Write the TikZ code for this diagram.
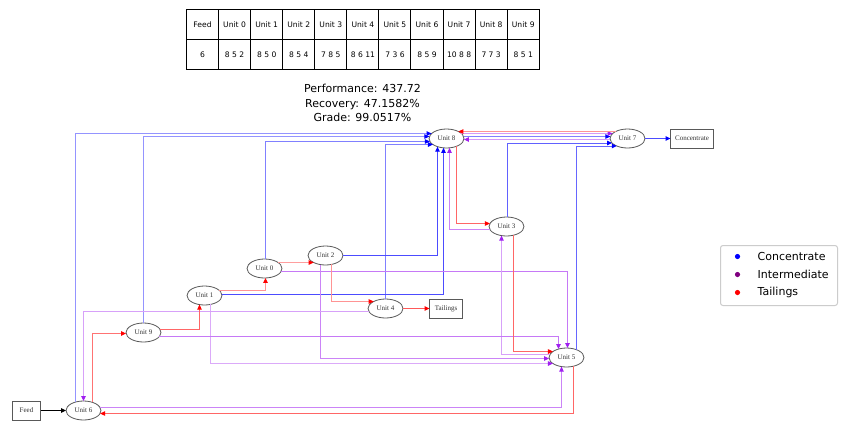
\documentclass[tikz,border=0pt]{standalone}
\usepackage{fontspec}
\setmainfont{DejaVu Sans}
\newfontfamily\gvfont{Liberation Serif}
\usetikzlibrary{shapes.geometric,arrows.meta,calc}
\definecolor{gvpurple}{HTML}{A020F0}
\definecolor{mplpurple}{HTML}{800080}
% border points of a 35x19 ellipse: top/bottom at horizontal offset, left/right at vertical offset
\newcommand\ptT[2]{($(#1)+(#2,{-9.5*sqrt(1-((#2)/17.5)^2)})$)}
\newcommand\ptB[2]{($(#1)+(#2,{9.5*sqrt(1-((#2)/17.5)^2)})$)}
\newcommand\ptL[2]{($(#1)+({-17.5*sqrt(1-((#2)/9.5)^2)},#2)$)}
\newcommand\ptR[2]{($(#1)+({17.5*sqrt(1-((#2)/9.5)^2)},#2)$)}
\tikzset{
  unit/.style={ellipse, draw=black!65, line width=0.8pt, minimum width=35pt, minimum height=19pt,
    inner sep=0pt, outer sep=0pt, font=\gvfont\fontsize{7}{8}\selectfont, text=black!80},
  term/.style={rectangle, draw=black!65, line width=0.8pt, minimum height=19pt,
    inner sep=0pt, outer sep=0pt, font=\gvfont\fontsize{7}{8}\selectfont, text=black!80},
  cedge/.style={line width=1pt, draw=blue!50!white, -{Triangle[length=5pt,width=4.5pt,color=blue]}},
  iedge/.style={line width=1pt, draw=gvpurple!50!white, -{Triangle[length=5pt,width=4.5pt,color=gvpurple]}},
  tedge/.style={line width=1pt, draw=red!50!white, -{Triangle[length=5pt,width=4.5pt,color=red]}},
  cell/.style={rectangle, draw=black, line width=1pt, minimum width=32.07pt, minimum height=30pt,
    inner sep=0pt, outer sep=0pt, font=\fontsize{7.6}{9}\selectfont},
  legtext/.style={anchor=west, inner sep=0pt, font=\fontsize{11}{13}\selectfont},
}
\begin{document}
\begin{tikzpicture}[x=1pt,y=-1pt]
\useasboundingbox (0,0) rectangle (846,432);
\fill[white] (0,0) rectangle (846,432);
\begin{scope}[shift={(0.5,0.5)}]
% table
\foreach \h/\v [count=\i from 0] in {Feed/6, Unit 0/8 5 2, Unit 1/8 5 0, Unit 2/8 5 4, Unit 3/7 8 5,
    Unit 4/8 6 11, Unit 5/7 3 6, Unit 6/8 5 9, Unit 7/10 8 8, Unit 8/7 7 3, Unit 9/8 5 1}{
  \node[cell] (hd\i) at ({186+16.035+32.07*\i},24) {\h};
  \node[cell] (vl\i) at ({186+16.035+32.07*\i},54) {\v};
}

% title
\node[align=center, font=\fontsize{11}{14.5}\selectfont, inner sep=0pt] (title) at (362,102.5)
  {Performance: 437.72\\Recovery: 47.1582\%\\Grade: 99.0517\%};

% nodes
\node[unit] (U8) at (446,138) {Unit 8};
\node[unit] (U7) at (627,138) {Unit 7};
\node[term, minimum width=43pt] (Conc) at (691.5,138) {Concentrate};
\node[unit] (U3) at (506,226) {Unit 3};
\node[unit] (U2) at (325,255) {Unit 2};
\node[unit] (U0) at (264,268) {Unit 0};
\node[unit] (U1) at (204,295) {Unit 1};
\node[unit] (U9) at (143,332) {Unit 9};
\node[unit] (U6) at (83,410) {Unit 6};
\node[term, minimum width=28pt] (Feed) at (26,410) {Feed};
\node[unit] (U4) at (385,308) {Unit 4};
\node[term, minimum width=33pt] (Tail) at (445.5,308) {Tailings};
\node[unit] (U5) at (566,357) {Unit 5};

% concentrate streams
\draw[cedge, draw=blue!42!white] \ptT{U6}{-8} |- \ptL{U8}{-5};
\draw[cedge, draw=blue!42!white] \ptT{U9}{0} |- \ptL{U8}{-2};
\draw[cedge] \ptT{U0}{1} |- \ptL{U8}{3};
\draw[cedge] \ptT{U4}{0} |- \ptL{U8}{6};
\draw[cedge, draw=blue!70!white] \ptR{U2}{0} -| \ptB{U8}{-9};
\draw[cedge, draw=blue!70!white] \ptR{U1}{-1} -| \ptB{U8}{-3};
\draw[cedge, draw=blue!62!white] \ptT{U3}{1} |- \ptL{U7}{4.5};
\draw[cedge, draw=blue!60!white] \ptT{U5}{10} |- \ptL{U7}{7.5};
\draw[cedge] \ptR{U8}{-2} -- \ptL{U7}{-2};
\draw[cedge, draw=blue!70!white] (U7) -- (Conc);

% intermediate streams
\draw[iedge, draw=gvpurple!60!white] \ptR{U0}{3} -| \ptT{U5}{1};
\draw[iedge, draw=gvpurple!38!white] \ptB{U1}{6} |- \ptL{U5}{6};
\draw[iedge, draw=gvpurple!55!white] \ptB{U2}{-5} |- \ptL{U5}{1};
\draw[iedge, draw=gvpurple!55!white] \ptL{U3}{3} -| \ptB{U8}{3};
\draw[iedge, draw=gvpurple!42!white] \ptL{U4}{3} -| \ptT{U6}{0};
\draw[iedge, draw=gvpurple!42!white] \ptL{U5}{-3} -| \ptB{U3}{-5};
\draw[iedge, draw=gvpurple!55!white] \ptR{U6}{-3} -| \ptB{U5}{-5};
\draw[iedge, draw=gvpurple!45!white] \ptL{U7}{1} -- \ptR{U8}{1};
\draw[iedge, draw=gvpurple!45!white] \ptR{U8}{-5} -- \ptL{U7}{-5};
\draw[iedge, draw=gvpurple!60!white] \ptR{U9}{4} -| \ptT{U5}{-8};

% tailings streams
\draw[tedge, draw=red!38!white] \ptR{U0}{-6} -- \ptL{U2}{7};
\draw[tedge, draw=red!42!white] \ptR{U1}{-5} -| \ptB{U0}{1};
\draw[tedge, draw=red!42!white] \ptB{U2}{6} |- \ptL{U4}{-7};
\draw[tedge, draw=red!60!white] \ptB{U3}{7} |- \ptL{U5}{-6};
\draw[tedge, draw=red!65!white] (U4) -- (Tail);
\draw[tedge, draw=red!60!white] \ptB{U5}{7} |- \ptR{U6}{3};
\draw[tedge, draw=red!55!white] \ptT{U6}{9} |- \ptL{U9}{1};
\draw[tedge, draw=red!42!white] \ptL{U7}{-7} -- \ptR{U8}{-7};
\draw[tedge, draw=red!60!white] \ptB{U8}{10} |- \ptL{U3}{-3};
\draw[tedge, draw=red!60!white] \ptR{U9}{-3} -| \ptB{U1}{-5};

% feed
\draw[line width=1pt, black, -{Triangle[length=5pt,width=4.5pt]}] (Feed) -- (U6);

% legend
\draw[draw=black!20, line width=1pt, rounded corners=2.5pt, fill=white] (720,245) rectangle (837,305);
\fill[blue] (737,256) circle (2.6);
\fill[mplpurple] (737,274) circle (2.6);
\fill[red] (737,292) circle (2.6);
\node[legtext] (lc) at (757,256) {Concentrate};
\node[legtext] (li) at (757,274) {Intermediate};
\node[legtext] (lt) at (757,292) {Tailings};
\end{scope}
\end{tikzpicture}
\end{document}
